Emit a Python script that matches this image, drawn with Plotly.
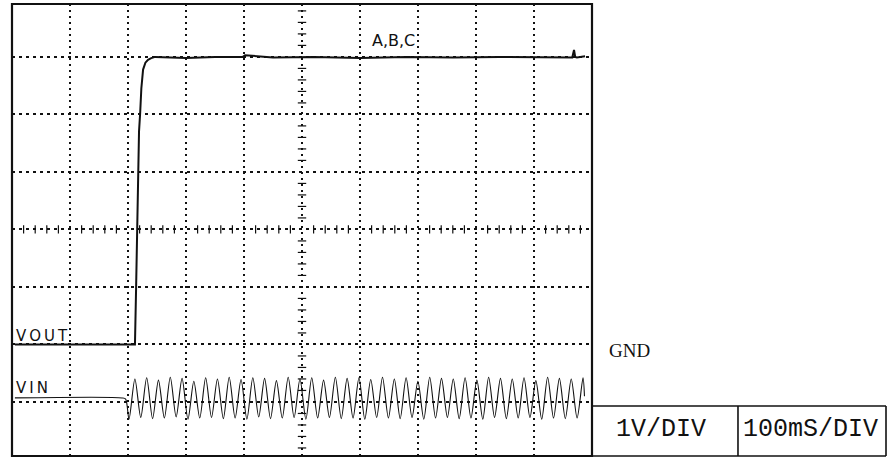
import plotly.graph_objects as go

# Oscilloscope screen: 10 x 8 divisions, 100 ms/div and 1 V/div
X_RANGE = [0, 1000]          # ms
Y_RANGE = [0.06, 7.92]       # divisions
VOUT_GND_DIV = 2             # ground level of the VOUT channel
VIN_GND_DIV = 1              # ground level of the VIN channel

# VOUT channel (V) against time (ms)
vout_t = [5, 100, 212, 214, 216, 217, 219, 221, 223, 226, 230, 234.5, 240, 247,
          300, 350, 398, 402, 450, 520, 600, 680, 760, 840, 910, 966, 969, 971,
          974, 988]
vout_v = [0, 0, 0, 1.0, 2.4, 3.2, 3.7, 4.03, 4.45, 4.78, 4.9, 4.95, 4.98, 5.0,
          4.98, 5.0, 5.0, 5.03, 4.99, 5.0, 4.98, 5.0, 4.99, 5.0, 5.0, 4.99, 5.12,
          5.0, 4.99, 5.01]

# VIN channel: flat until switch-on, then the AC input (peaks and troughs)
vin_t = [5, 190, 196,
         201.7, 211.9, 222.0, 232.2, 242.4, 252.5, 262.7, 272.9, 283.0, 293.2,
         303.4, 313.5, 323.7, 333.9, 344.0, 354.2, 364.4, 374.5, 384.7, 394.9,
         405.0, 415.2, 425.4, 435.5, 445.7, 455.9, 466.0, 476.2, 486.4, 496.5,
         506.7, 516.8, 527.0, 537.2, 547.3, 557.5, 567.7, 577.8, 588.0, 598.2,
         608.3, 618.5, 628.7, 638.8, 649.0, 659.2, 669.3, 679.5, 689.7, 699.8,
         710.0, 720.2, 730.3, 740.5, 750.7, 760.8, 771.0, 781.2, 791.3, 801.5,
         811.7, 821.8, 832.0, 842.2, 852.3, 862.5, 872.7, 882.8, 893.0, 903.2,
         913.3, 923.5, 933.7, 943.8, 954.0, 964.2, 974.3, 984.5,
         987]
vin_v = [0.07, 0.07, 0.05,
         -0.30, 0.40, -0.27, 0.42, -0.29, 0.38, -0.28, 0.43, -0.26, 0.41,
         -0.30, 0.36, -0.28, 0.42, -0.27, 0.40, -0.29, 0.43, -0.28, 0.39,
         -0.30, 0.42, -0.26, 0.41, -0.29, 0.37, -0.28, 0.43, -0.27, 0.40,
         -0.30, 0.42, -0.28, 0.38, -0.27, 0.43, -0.29, 0.41, -0.28, 0.42,
         -0.30, 0.39, -0.27, 0.43, -0.28, 0.40, -0.29, 0.42, -0.27, 0.36,
         -0.30, 0.43, -0.28, 0.41, -0.27, 0.40, -0.29, 0.42, -0.28, 0.38,
         -0.30, 0.43, -0.27, 0.41, -0.29, 0.40, -0.28, 0.42, -0.27, 0.37,
         -0.30, 0.43, -0.28, 0.41, -0.29, 0.40, -0.28, 0.42,
         0.10]

INK = "#111111"
THIN = "\u2009"

fig = go.Figure()

# graticule ticks along the centre axes (5 per division)
cx_ticks = [20 * k for k in range(1, 50) if k % 5]
cy_ticks = [0.2 * k for k in range(1, 40) if k % 5]
fig.add_trace(go.Scatter(
    x=cx_ticks, y=[4] * len(cx_ticks), mode="markers",
    marker=dict(symbol="line-ns", size=6, line=dict(width=1.2, color=INK)),
    hoverinfo="skip", showlegend=False))
fig.add_trace(go.Scatter(
    x=[500] * len(cy_ticks), y=cy_ticks, mode="markers",
    marker=dict(symbol="line-ew", size=6, line=dict(width=1.2, color=INK)),
    hoverinfo="skip", showlegend=False))

# signal traces
fig.add_trace(go.Scatter(
    x=vout_t, y=[v + VOUT_GND_DIV for v in vout_v], mode="lines",
    line=dict(color=INK, width=2), hoverinfo="skip", showlegend=False))
fig.add_trace(go.Scatter(
    x=vin_t, y=[v + VIN_GND_DIV for v in vin_v], mode="lines",
    line=dict(color=INK, width=1.1, shape="spline", smoothing=0.8),
    hoverinfo="skip", showlegend=False))

label_font = dict(family="DejaVu Sans", size=15, color=INK)
annotations = [
    dict(x=4, y=2.15, xref="x", yref="y", text=THIN.join("VOUT"),
         showarrow=False, xanchor="left", yanchor="middle", font=label_font),
    dict(x=4, y=1.24, xref="x", yref="y", text=THIN.join("VIN"),
         showarrow=False, xanchor="left", yanchor="middle", font=label_font),
    dict(x=617, y=7.28, xref="x", yref="y", text="A,B,C", showarrow=False,
         xanchor="left", yanchor="middle",
         font=dict(family="DejaVu Sans", size=16, color=INK)),
    dict(x=1.026, y=0.2345, xref="paper", yref="paper", text="GND",
         showarrow=False, xanchor="left", yanchor="middle",
         font=dict(family="Liberation Serif", size=19, color=INK)),
    dict(x=1.1198, y=0.0586, xref="paper", yref="paper", text="1V/DIV",
         showarrow=False, xanchor="center", yanchor="middle",
         font=dict(family="Liberation Mono", size=25, color=INK)),
    dict(x=1.3759, y=0.0586, xref="paper", yref="paper", text="100mS/DIV",
         showarrow=False, xanchor="center", yanchor="middle",
         font=dict(family="Liberation Mono", size=25, color=INK)),
]

box_line = dict(color=INK, width=1.6)
shapes = [
    # screen frame
    dict(type="rect", xref="x domain", yref="y domain", x0=0, x1=1, y0=0, y1=1,
         line=dict(color=INK, width=2.2), layer="above"),
    # scale table at the lower right
    dict(type="line", xref="paper", yref="paper", x0=1, x1=1.5069,
         y0=0.1106, y1=0.1106, line=box_line),
    dict(type="line", xref="paper", yref="paper", x0=1, x1=1.5069,
         y0=0, y1=0, line=box_line),
    dict(type="line", xref="paper", yref="paper", x0=1.5069, x1=1.5069,
         y0=0, y1=0.1106, line=box_line),
    dict(type="line", xref="paper", yref="paper", x0=1.2517, x1=1.2517,
         y0=0, y1=0.1106, line=box_line),
]

fig.update_layout(
    width=889, height=459,
    margin=dict(l=12, r=297, t=4, b=3, pad=0),
    paper_bgcolor="white", plot_bgcolor="white",
    showlegend=False,
    annotations=annotations, shapes=shapes,
    xaxis=dict(range=X_RANGE, tick0=0, dtick=100, showticklabels=False,
               ticks="", showgrid=True, gridcolor=INK, gridwidth=1.5,
               griddash="2px,4px", zeroline=False, showline=False,
               fixedrange=True),
    yaxis=dict(range=Y_RANGE, tick0=0, dtick=1, showticklabels=False,
               ticks="", showgrid=True, gridcolor=INK, gridwidth=1.5,
               griddash="3px,4px", zeroline=False, showline=False,
               fixedrange=True),
)

fig.write_html("out.html")
